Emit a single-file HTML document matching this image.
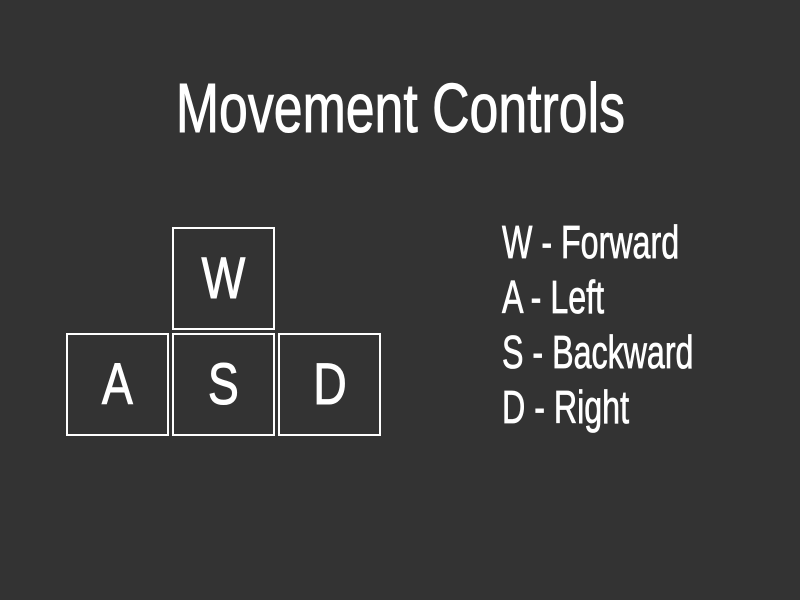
<!DOCTYPE html>
<html>
<head>
<meta charset="utf-8">
<style>
  html, body { margin:0; padding:0; }
  body { width:800px; height:600px; background:#333333; position:relative; overflow:hidden;
         font-family:"Liberation Sans", "DejaVu Sans", sans-serif; color:#ffffff; }
  .title { position:absolute; left:0; top:73px; width:800px; text-align:center;
           font-size:70px; line-height:70px; -webkit-text-stroke:1px #ffffff; }
  .title span { display:inline-block; transform:scaleX(0.74); transform-origin:center; }
  .key { position:absolute; width:99px; height:99px; border:2px solid #ffffff;
         display:flex; align-items:center; justify-content:center; font-size:58px; box-sizing:content-box;
         -webkit-text-stroke:1px #ffffff; }
  .key span { display:inline-block; transform:scaleX(0.8); }
  .item { position:absolute; left:502px; font-size:46px; line-height:46px; white-space:nowrap;
          transform:scaleX(0.70); transform-origin:left center; -webkit-text-stroke:0.8px #ffffff; }
</style>
</head>
<body>
  <div class="title"><span>Movement Controls</span></div>

  <div class="key" style="left:172px; top:227px;"><span>W</span></div>
  <div class="key" style="left:66px; top:333px;"><span>A</span></div>
  <div class="key" style="left:172px; top:333px;"><span>S</span></div>
  <div class="key" style="left:278px; top:333px;"><span>D</span></div>

  <div class="item" style="top:219px;">W - Forward</div>
  <div class="item" style="top:274px;">A - Left</div>
  <div class="item" style="top:329px;">S - Backward</div>
  <div class="item" style="top:384px;">D - Right</div>
</body>
</html>
